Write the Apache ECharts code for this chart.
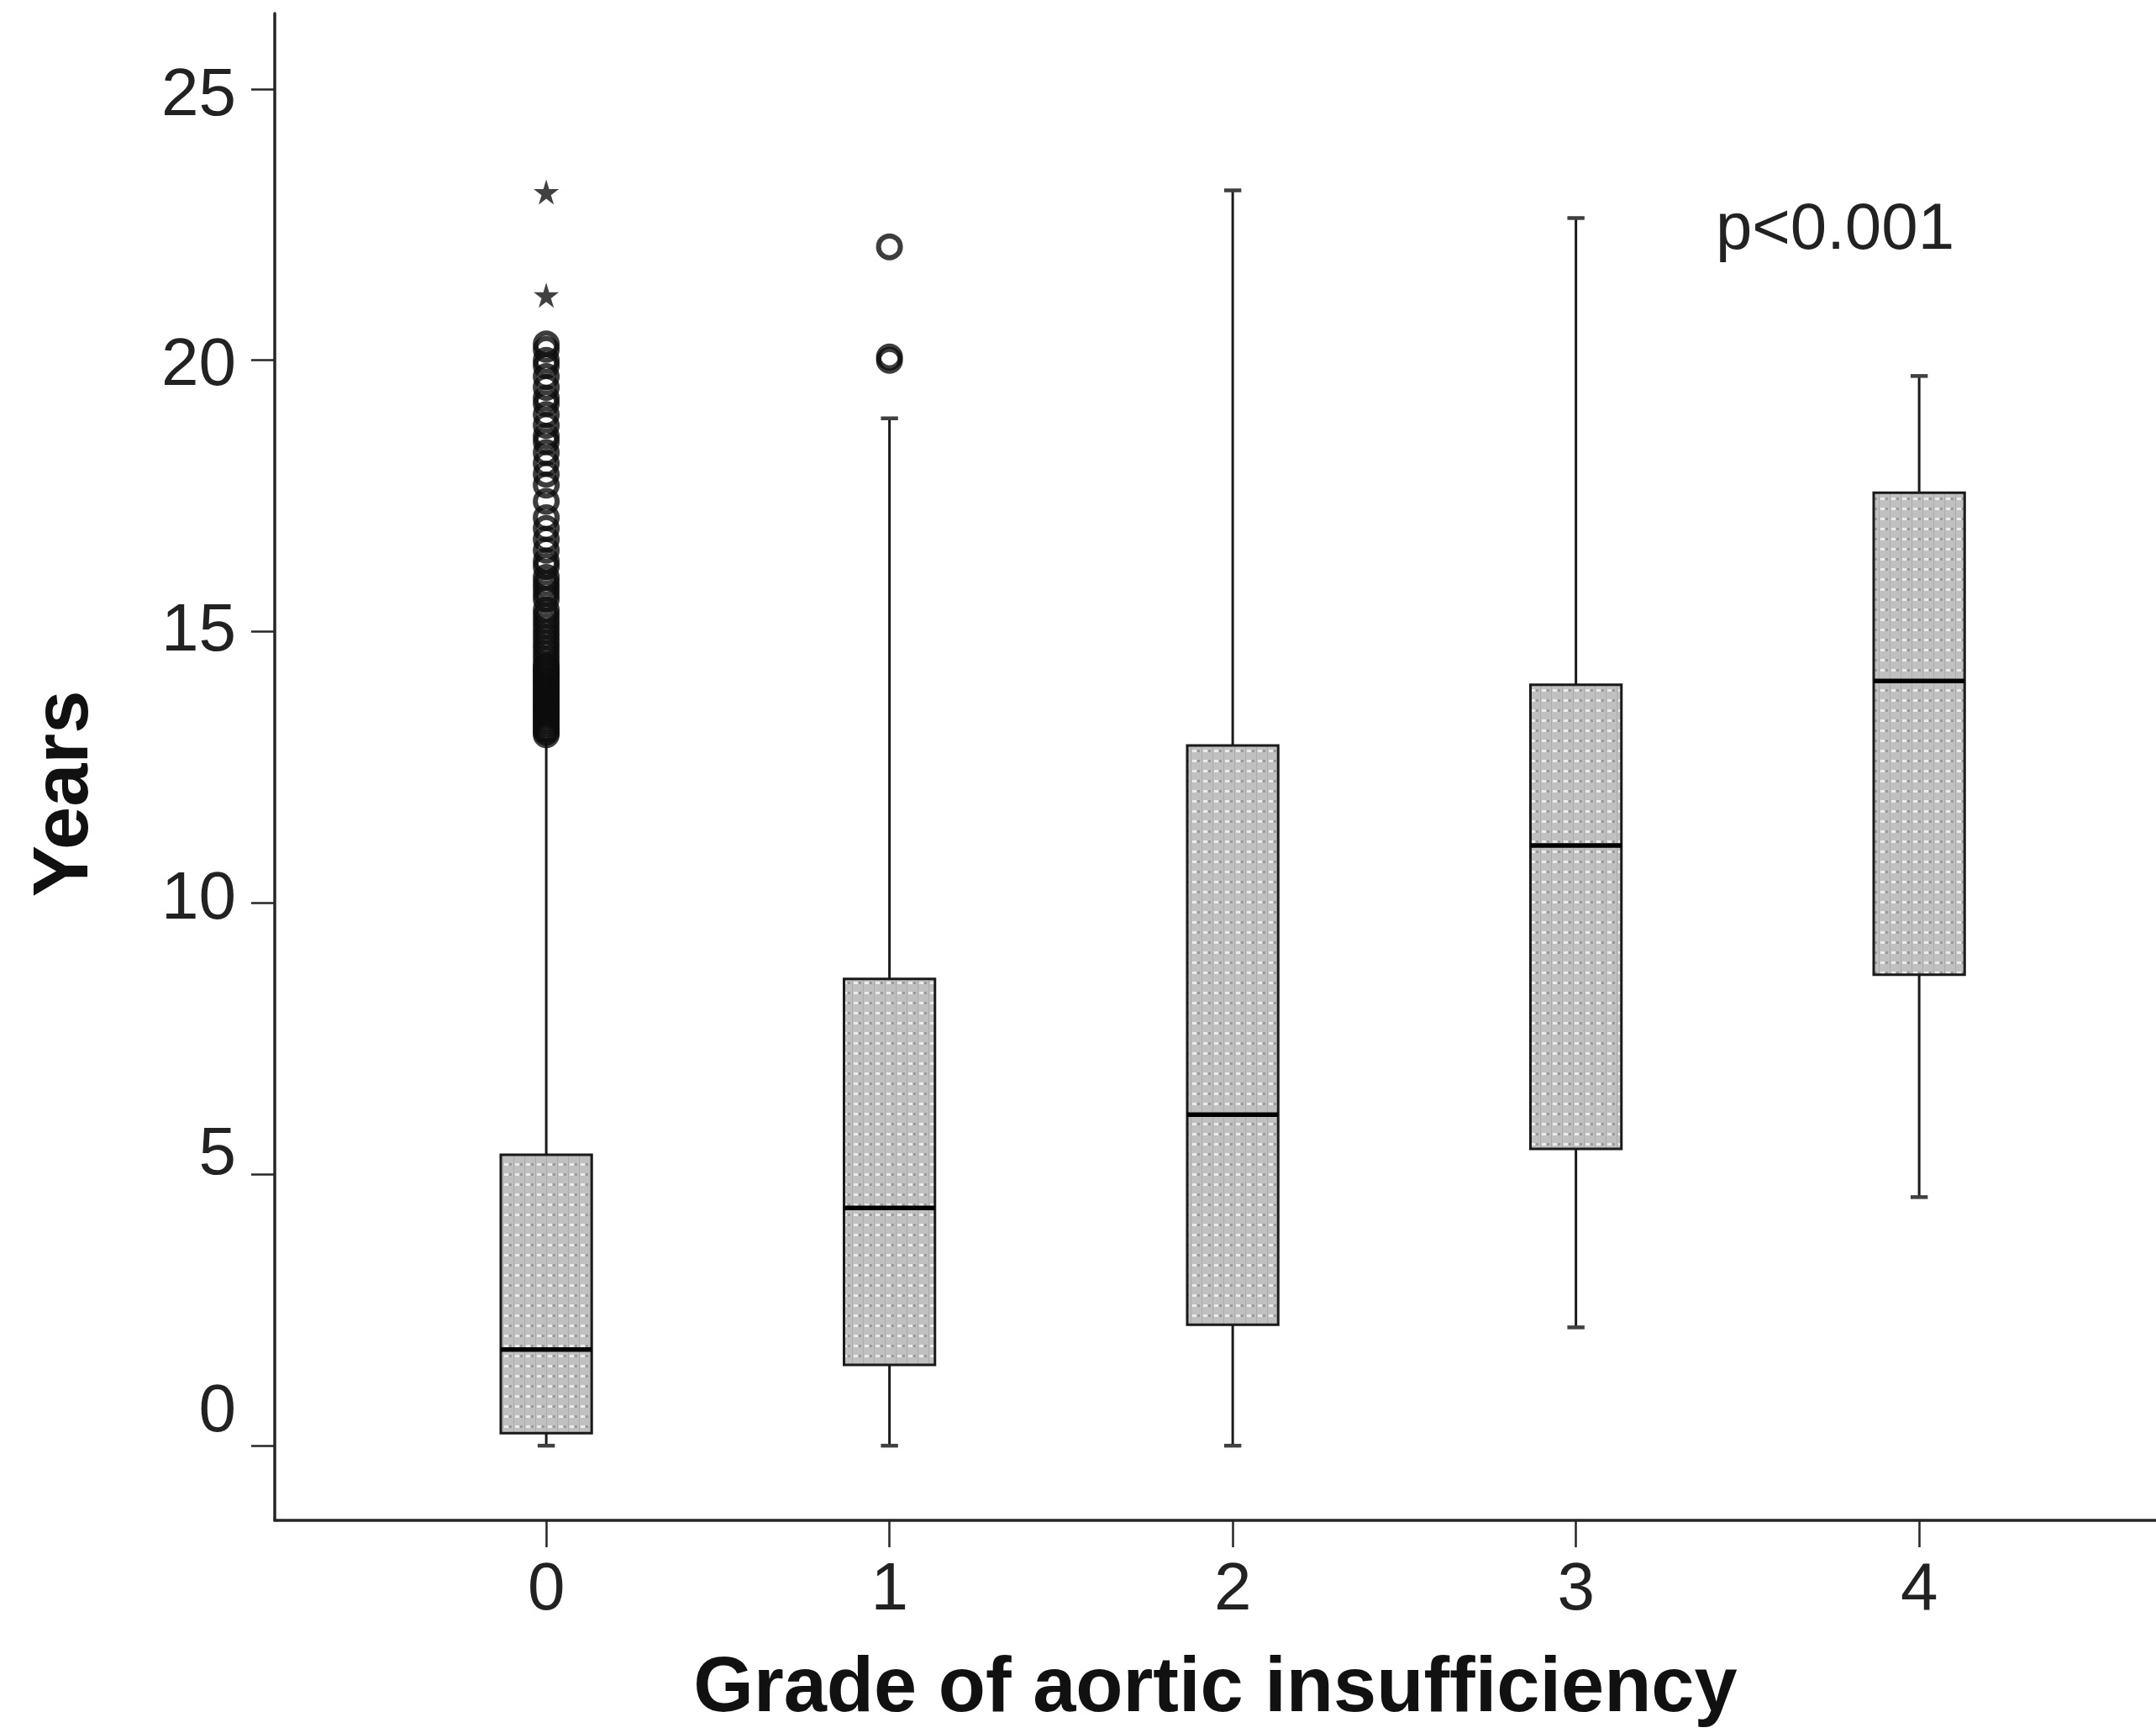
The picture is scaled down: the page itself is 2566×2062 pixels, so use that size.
<!DOCTYPE html>
<html>
<head>
<meta charset="utf-8">
<script src="https://cdn.jsdelivr.net/npm/echarts@6/dist/echarts.min.js"></script>
<style>
  html, body { margin: 0; padding: 0; background: #fff; }
  #chart { width: 2566px; height: 2062px; }
</style>
</head>
<body>
<div id="chart"></div>
<script>
// Duration (years) by grade of aortic insufficiency
const grades = [0, 1, 2, 3, 4];
const gradeLabels = ['0', '1', '2', '3', '4'];
const lowWhisker = [0, 0, 0, 2.18, 4.58];
const q1 = [0.23, 1.49, 2.23, 5.47, 8.68];
const median = [1.77, 4.38, 6.10, 11.06, 14.09];
const q3 = [5.36, 8.60, 12.90, 14.02, 17.56];
const highWhisker = [13.0, 18.93, 23.13, 22.62, 19.71];

// outliers (circles) and extreme values (stars)
const outliersGrade0 = [13.1, 13.15, 13.2, 13.25, 13.3, 13.35, 13.4, 13.45, 13.5, 13.55,
  13.6, 13.65, 13.7, 13.75, 13.8, 13.85, 13.9, 13.95, 14.0, 14.05, 14.1, 14.15, 14.2,
  14.25, 14.3, 14.35, 14.4, 14.5, 14.6, 14.7, 14.8, 14.9, 15.0, 15.1, 15.2, 15.3, 15.4,
  15.6, 15.7, 15.8, 15.9, 16.0, 16.2, 16.3, 16.5, 16.7, 16.9, 17.1, 17.4, 17.7, 17.9,
  18.1, 18.3, 18.5, 18.6, 18.8, 19.0, 19.2, 19.3, 19.5, 19.7, 19.9, 20.0, 20.2, 20.3];
const outliersGrade1 = [20.0, 20.06, 22.09];
const extremesGrade0 = [21.2, 23.1];

const yTicks = [0, 5, 10, 15, 20, 25];
const pValueText = 'p<0.001';

const BOX_WIDTH = 0.265;
const CAP_WIDTH = 0.05;
const INK = '#1a1a1a';
const FONT = '"Liberation Sans", Arial, Helvetica, sans-serif';

// stippled grey fill used inside the boxes
function makeStipple() {
  const c = document.createElement('canvas');
  c.width = 13; c.height = 12;
  const g = c.getContext('2d');
  g.fillStyle = '#c0c0c0';
  g.fillRect(0, 0, 13, 12);
  g.fillStyle = '#ebebeb';
  g.fillRect(2, 4, 5, 3);
  g.fillStyle = '#9a9a9a';
  g.fillRect(8, 4, 3, 3);
  g.fillStyle = '#acacac';
  g.fillRect(0, 0, 1, 12);
  return c;
}
const stipple = { image: makeStipple(), repeat: 'repeat' };

const boxData = grades.map((g, i) => [g, lowWhisker[i], q1[i], median[i], q3[i], highWhisker[i]]);
const circleData = outliersGrade0.map(v => [0, v]).concat(outliersGrade1.map(v => [1, v]));
const starData = extremesGrade0.map(v => [0, v]);

function renderBox(params, api) {
  const x = api.value(0);
  const lo = api.coord([x, api.value(1)]);
  const b1 = api.coord([x, api.value(2)]);
  const md = api.coord([x, api.value(3)]);
  const b3 = api.coord([x, api.value(4)]);
  const hi = api.coord([x, api.value(5)]);
  const hb = api.size([BOX_WIDTH, 0])[0] / 2;
  const hc = api.size([CAP_WIDTH, 0])[0] / 2;
  const lineStyle = { stroke: INK, lineWidth: 3 };
  const capStyle = { stroke: '#404040', lineWidth: 4.5 };
  return {
    type: 'group',
    children: [
      { type: 'line', shape: { x1: lo[0], y1: lo[1], x2: b1[0], y2: b1[1] }, style: lineStyle },
      { type: 'line', shape: { x1: b3[0], y1: b3[1], x2: hi[0], y2: hi[1] }, style: lineStyle },
      { type: 'line', shape: { x1: lo[0] - hc, y1: lo[1], x2: lo[0] + hc, y2: lo[1] }, style: capStyle },
      { type: 'line', shape: { x1: hi[0] - hc, y1: hi[1], x2: hi[0] + hc, y2: hi[1] }, style: capStyle },
      { type: 'rect', shape: { x: b3[0] - hb, y: b3[1], width: hb * 2, height: b1[1] - b3[1] },
        style: { fill: stipple, stroke: INK, lineWidth: 3 } },
      { type: 'line', shape: { x1: md[0] - hb, y1: md[1], x2: md[0] + hb, y2: md[1] },
        style: { stroke: '#000', lineWidth: 5.5 } }
    ]
  };
}

// y tick labels sit slightly off their ticks; per-label vertical nudge
const labelFont = { fontFamily: FONT, fontSize: 80, color: '#222' };
const yLabelRich = {
  t0: Object.assign({ padding: [0, 0, 78, 0] }, labelFont),
  t5: Object.assign({ padding: [0, 0, 44, 0] }, labelFont),
  t10: Object.assign({ padding: [0, 0, 6, 0] }, labelFont),
  t15: Object.assign({}, labelFont),
  t20: Object.assign({ padding: [14, 0, 0, 0] }, labelFont),
  t25: Object.assign({ padding: [18, 0, 0, 0] }, labelFont)
};

const chart = echarts.init(document.getElementById('chart'), null, { renderer: 'canvas' });

chart.setOption({
  animation: false,
  backgroundColor: '#fff',
  grid: { left: 327, right: 0, top: 16, bottom: 250, containLabel: false },
  xAxis: {
    type: 'value',
    min: -0.791,
    max: 4.69,
    name: 'Grade of aortic insufficiency',
    nameLocation: 'middle',
    nameGap: 156,
    nameTextStyle: { fontFamily: FONT, fontWeight: 'bold', fontSize: 92, color: '#111' },
    splitLine: { show: false },
    axisLine: { show: true, onZero: false, lineStyle: { color: '#262626', width: 3.5 } },
    axisTick: { show: true, customValues: grades, length: 32, lineStyle: { color: '#262626', width: 2.5 } },
    axisLabel: {
      customValues: grades,
      margin: 44,
      fontFamily: FONT,
      fontSize: 80,
      color: '#222',
      formatter: v => gradeLabels[grades.indexOf(v)]
    }
  },
  yAxis: {
    type: 'value',
    min: -1.376,
    max: 26.39,
    name: 'Years',
    nameLocation: 'middle',
    nameGap: 202,
    nameRotate: 90,
    nameTextStyle: { fontFamily: FONT, fontWeight: 'bold', fontSize: 92, color: '#111', padding: [0, 64, 0, 0] },
    splitLine: { show: false },
    axisLine: { show: true, onZero: false, lineStyle: { color: '#262626', width: 3.5 } },
    axisTick: { show: true, customValues: yTicks, length: 28, lineStyle: { color: '#262626', width: 2.5 } },
    axisLabel: {
      customValues: yTicks,
      margin: 46,
      fontFamily: FONT,
      fontSize: 80,
      color: '#222',
      formatter: v => '{t' + v + '|' + v + '}',
      rich: yLabelRich
    }
  },
  series: [
    {
      type: 'custom',
      renderItem: renderBox,
      data: boxData,
      encode: { x: 0, y: [1, 2, 3, 4, 5] },
      z: 2
    },
    {
      type: 'scatter',
      data: circleData,
      symbol: 'circle',
      symbolSize: 26,
      itemStyle: { color: 'rgba(0,0,0,0)', borderColor: '#0d0d0d', borderWidth: 6 },
      z: 3
    },
    {
      type: 'scatter',
      data: starData,
      symbol: 'path://M50,0 L61,35 L98,35 L68,57 L79,91 L50,70 L21,91 L32,57 L2,35 L39,35 Z',
      symbolSize: 30,
      itemStyle: { color: '#111' },
      z: 3
    }
  ]
});

// significance annotation, anchored in data space
const pPos = chart.convertToPixel({ gridIndex: 0 }, [3.407, 22.39]);
chart.setOption({
  graphic: [{
    type: 'text',
    x: pPos[0],
    y: pPos[1],
    style: {
      text: pValueText,
      fontFamily: FONT,
      fontSize: 78,
      fill: '#222',
      textAlign: 'left',
      textVerticalAlign: 'middle'
    }
  }]
});
</script>
</body>
</html>
